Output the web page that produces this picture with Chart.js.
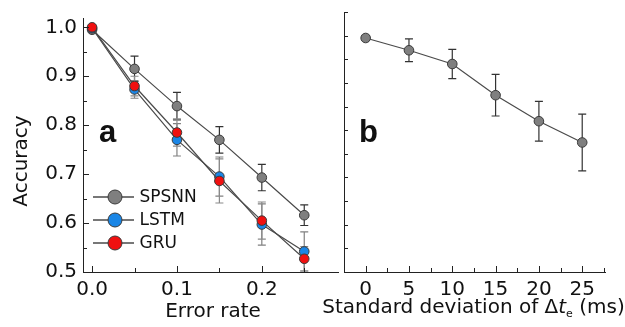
<!DOCTYPE html>
<html>
<head>
<meta charset="utf-8">
<script src="https://cdn.jsdelivr.net/npm/chart.js@4.4.1/dist/chart.umd.min.js"></script>
<style>
  html, body { margin: 0; padding: 0; background: #fff; }
  #wrap { position: relative; width: 625px; height: 327px; }
  canvas { position: absolute; top: 0; }
  #left { left: 0; }
  #right { left: 300px; }
</style>
</head>
<body>
<div id="wrap">
  <canvas id="left" width="344" height="327"></canvas>
  <canvas id="right" width="325" height="327"></canvas>
</div>
<script>
// panel a: accuracy vs error rate
const errorRates = [0, 0.05, 0.1, 0.15, 0.2, 0.25];
const spsnnAcc = [0.995, 0.915, 0.839, 0.770, 0.693, 0.616];
const spsnnErr = [0.004, 0.026, 0.028, 0.027, 0.027, 0.021];
const lstmAcc = [0.998, 0.873, 0.770, 0.695, 0.597, 0.542];
const lstmErr = [0.003, 0.018, 0.033, 0.040, 0.042, 0.040];
const gruAcc = [1.0, 0.880, 0.785, 0.686, 0.605, 0.527];
const gruErr = [0.003, 0.020, 0.028, 0.045, 0.038, 0.025];

// panel b: accuracy vs standard deviation of delta t_e (ms)
const sdValues = [0, 5, 10, 15, 20, 25];
const sdAcc = [0.995, 0.969, 0.940, 0.874, 0.819, 0.774];
const sdErr = [0.004, 0.024, 0.031, 0.044, 0.042, 0.060];

const xTicksA = [0, 0.1, 0.2];
const yTicksA = [0.5, 0.6, 0.7, 0.8, 0.9, 1.0];
const xTicksB = [0, 5, 10, 15, 20, 25];

const FONT = 'DejaVu Sans';
const INK = '#111';
const AXIS = '#222';

function pts(xs, ys) {
  return xs.map((x, i) => ({ x: x, y: ys[i] }));
}

// error bars drawn under the markers
const errorBars = {
  id: 'errorBars',
  beforeDatasetsDraw(chart) {
    const ctx = chart.ctx;
    const xs = chart.scales.x, ys = chart.scales.y;
    ctx.save();
    ctx.beginPath();
    ctx.rect(chart.chartArea.left, chart.chartArea.top - 10, chart.chartArea.right - chart.chartArea.left, chart.chartArea.bottom - chart.chartArea.top + 10);
    ctx.clip();
    chart.data.datasets.forEach(ds => {
      ctx.strokeStyle = ds.errColor;
      ctx.lineWidth = 1.2;
      ds.data.forEach((p, i) => {
        const e = ds.errors[i];
        const px = xs.getPixelForValue(p.x);
        const top = ys.getPixelForValue(p.y + e);
        const bot = ys.getPixelForValue(p.y - e);
        ctx.beginPath();
        ctx.moveTo(px, top); ctx.lineTo(px, bot);
        ctx.moveTo(px - 4, top); ctx.lineTo(px + 4, top);
        ctx.moveTo(px - 4, bot); ctx.lineTo(px + 4, bot);
        ctx.stroke();
      });
    });
    ctx.restore();
  }
};

// inward tick marks, major and minor
function drawTicks(chart, xMajor, xMinor, yMajor, yMinor, majorLen, minorLen) {
  const ctx = chart.ctx;
  const xs = chart.scales.x, ys = chart.scales.y;
  const a = chart.chartArea;
  ctx.save();
  ctx.strokeStyle = AXIS;
  ctx.lineWidth = 1;
  ctx.beginPath();
  xMajor.forEach(v => { const p = Math.round(xs.getPixelForValue(v)) + 0.5; ctx.moveTo(p, a.bottom); ctx.lineTo(p, a.bottom - majorLen); });
  xMinor.forEach(v => { const p = Math.round(xs.getPixelForValue(v)) + 0.5; ctx.moveTo(p, a.bottom); ctx.lineTo(p, a.bottom - minorLen); });
  yMajor.forEach(v => { const p = Math.round(ys.getPixelForValue(v)) + 0.5; ctx.moveTo(a.left, p); ctx.lineTo(a.left + majorLen, p); });
  yMinor.forEach(v => { const p = Math.round(ys.getPixelForValue(v)) + 0.5; ctx.moveTo(a.left, p); ctx.lineTo(a.left + minorLen, p); });
  ctx.stroke();
  ctx.restore();
}

const leftDecor = {
  id: 'leftDecor',
  afterDraw(chart) {
    drawTicks(chart, [0, 0.1, 0.2], [0.05, 0.15, 0.25],
      [0.6, 0.7, 0.8, 0.9, 1.0], [0.55, 0.65, 0.75, 0.85, 0.95], 6, 4);
    const ctx = chart.ctx;
    ctx.save();
    // legend
    const items = chart.data.datasets;
    const rows = [197, 220, 243];
    items.forEach((ds, i) => {
      const y = rows[i];
      ctx.strokeStyle = ds.borderColor;
      ctx.lineWidth = 1.3;
      ctx.beginPath(); ctx.moveTo(93, y); ctx.lineTo(134, y); ctx.stroke();
      ctx.beginPath(); ctx.arc(115, y, 7, 0, Math.PI * 2);
      ctx.fillStyle = ds.pointBackgroundColor; ctx.fill();
      ctx.strokeStyle = ds.pointBorderColor; ctx.lineWidth = 1; ctx.stroke();
      ctx.fillStyle = INK;
      ctx.font = '17px "' + FONT + '"';
      ctx.textBaseline = 'middle';
      ctx.textAlign = 'left';
      ctx.fillText(ds.label, 139.5, y + 1);
    });
    // panel letter
    ctx.font = 'bold 31px "Liberation Sans"';
    ctx.textBaseline = 'alphabetic';
    ctx.fillText('a', 99, 141.5);
    // axis titles
    ctx.font = '20px "' + FONT + '"';
    ctx.textAlign = 'center';
    ctx.fillText('Error rate', 213, 317);
    ctx.translate(27, 161);
    ctx.rotate(-Math.PI / 2);
    ctx.fillText('Accuracy', 0, 0);
    ctx.restore();
  }
};

const rightDecor = {
  id: 'rightDecor',
  afterDraw(chart) {
    const yMinor = [];
    [0.5, 0.55, 0.6, 0.65, 0.7, 0.75, 0.8, 0.85, 0.9, 0.95, 1.0, 1.05].forEach(v => yMinor.push(v));
    drawTicks(chart, [0, 5, 10, 15, 20, 25], [-2.5, 2.5, 7.5, 12.5, 17.5, 22.5, 27.5], [], yMinor, 6, 4);
    const ctx = chart.ctx;
    ctx.save();
    ctx.fillStyle = INK;
    ctx.font = 'bold 31px "Liberation Sans"';
    ctx.textBaseline = 'alphabetic';
    ctx.textAlign = 'left';
    ctx.fillText('b', 59, 141.5);
    // title with italic t and subscript e
    const normal = '20px "' + FONT + '"';
    const italic = 'italic 20px "' + FONT + '"';
    const small = '11px "' + FONT + '"';
    const parts = [
      { t: 'Standard deviation of \u0394', f: normal, dy: 0 },
      { t: 't', f: italic, dy: 0 },
      { t: 'e', f: small, dy: 4 },
      { t: ' (ms)', f: normal, dy: 0 }
    ];
    let total = 0;
    parts.forEach(p => { ctx.font = p.f; p.w = ctx.measureText(p.t).width; total += p.w; });
    let x = 173.5 - total / 2;
    parts.forEach(p => { ctx.font = p.f; ctx.fillText(p.t, x, 313 + p.dy); x += p.w; });
    ctx.restore();
  }
};

function axisBase() {
  return {
    type: 'linear',
    grid: { display: false, drawTicks: false },
    border: { display: true, color: AXIS, width: 1 },
    ticks: { color: INK, font: { family: FONT, size: 20 } }
  };
}

const xA = axisBase();
xA.min = -0.0107; xA.max = 0.29;
xA.afterBuildTicks = s => { s.ticks = xTicksA.map(v => ({ value: v })); };
xA.ticks.callback = v => v.toFixed(1);
xA.ticks.padding = 6;
xA.afterFit = s => { s.height = 55; };

const yA = axisBase();
yA.min = 0.5; yA.max = 1.019;
yA.afterBuildTicks = s => { s.ticks = yTicksA.map(v => ({ value: v })); };
yA.ticks.callback = v => v.toFixed(1);
yA.ticks.padding = 6;
yA.afterFit = s => { s.width = 83; };

function series(label, ys, errs, fill, errColor, order) {
  return {
    label: label,
    data: pts(errorRates, ys),
    errors: errs,
    errColor: errColor,
    order: order,
    borderColor: '#4a4a4a',
    borderWidth: 1.2,
    pointRadius: 4.8,
    pointBackgroundColor: fill,
    pointBorderColor: '#3a3a3a',
    pointBorderWidth: 1,
    tension: 0
  };
}

new Chart(document.getElementById('left'), {
  type: 'line',
  data: {
    datasets: [
      series('SPSNN', spsnnAcc, spsnnErr, '#7f7f7f', '#333', 3),
      series('LSTM', lstmAcc, lstmErr, '#1a86e6', '#808080', 2),
      series('GRU', gruAcc, gruErr, '#f01010', '#8a8a8a', 1)
    ]
  },
  options: {
    responsive: false,
    animation: false,
    layout: { padding: { top: 12, left: 0, right: 0, bottom: 0 } },
    plugins: { legend: { display: false }, tooltip: { enabled: false } },
    scales: { x: xA, y: yA }
  },
  plugins: [errorBars, leftDecor]
});

const xB = axisBase();
xB.min = -2.5; xB.max = 27.63;
xB.afterBuildTicks = s => { s.ticks = xTicksB.map(v => ({ value: v })); };
xB.ticks.padding = 6;
xB.afterFit = s => { s.height = 55; };

const yB = axisBase();
yB.min = 0.5; yB.max = 1.05;
yB.ticks.display = false;
yB.afterFit = s => { s.width = 44; };

new Chart(document.getElementById('right'), {
  type: 'line',
  data: {
    datasets: [{
      label: 'SPSNN',
      data: pts(sdValues, sdAcc),
      errors: sdErr,
      errColor: '#333',
      borderColor: '#4a4a4a',
      borderWidth: 1.2,
      pointRadius: 4.8,
      pointBackgroundColor: '#7f7f7f',
      pointBorderColor: '#3a3a3a',
      pointBorderWidth: 1,
      tension: 0
    }]
  },
  options: {
    responsive: false,
    animation: false,
    layout: { padding: { top: 12, left: 0, right: 20, bottom: 0 } },
    plugins: { legend: { display: false }, tooltip: { enabled: false } },
    scales: { x: xB, y: yB }
  },
  plugins: [errorBars, rightDecor]
});
</script>
</body>
</html>
